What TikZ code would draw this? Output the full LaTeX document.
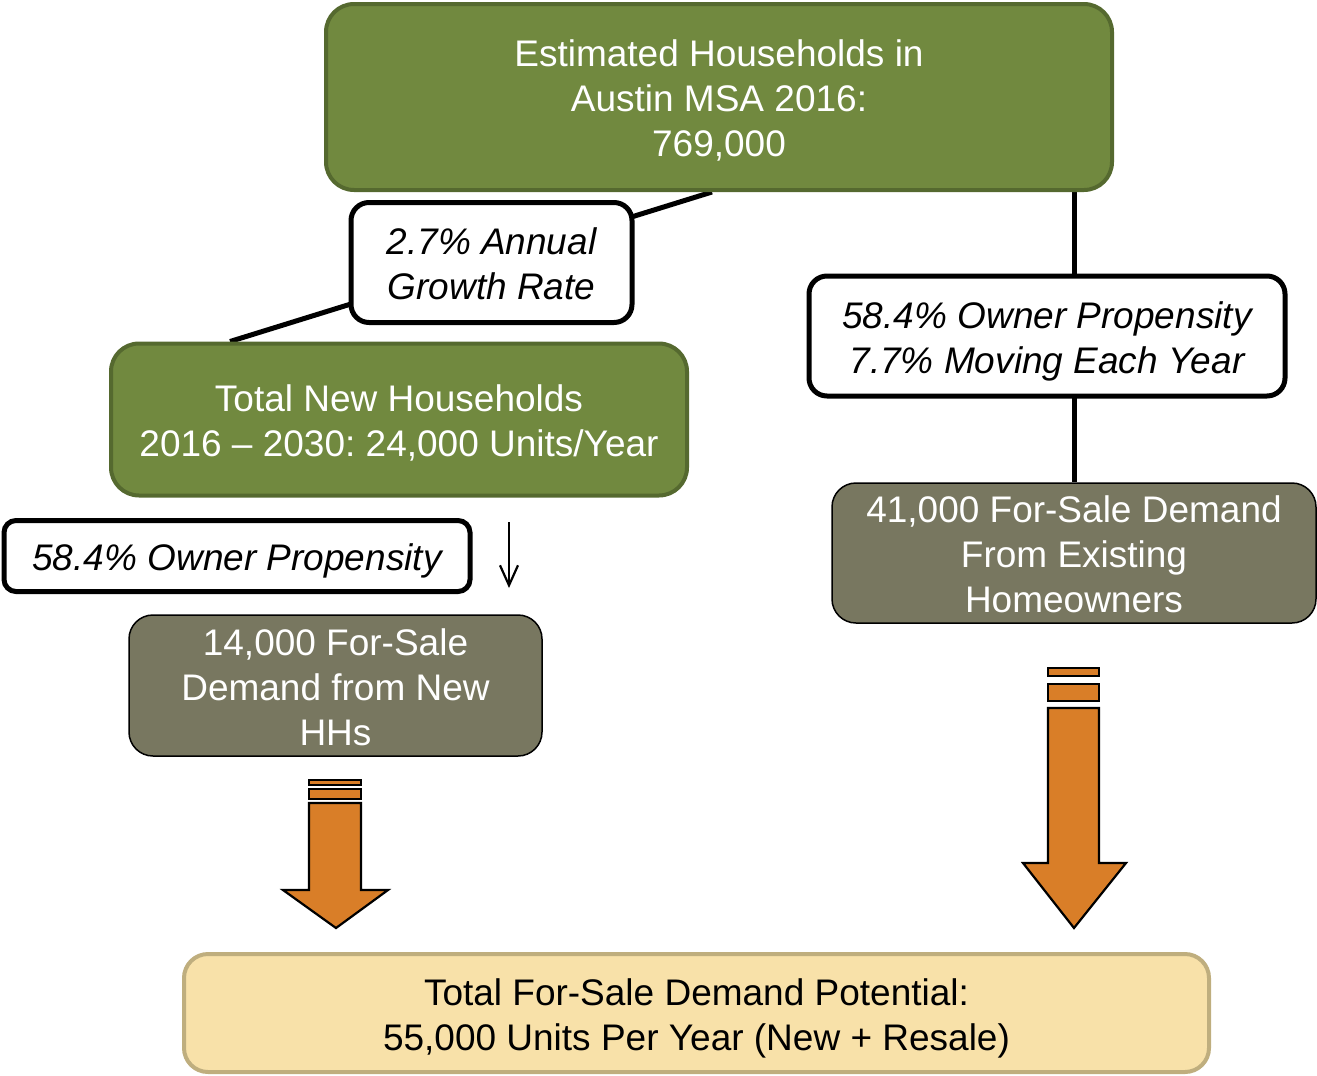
\documentclass[tikz,border=0pt]{standalone}
\usepackage{fontspec}
\setmainfont{Liberation Sans}
\usetikzlibrary{arrows.meta,backgrounds}
\frenchspacing
\definecolor{grfill}{HTML}{71893F}
\definecolor{grline}{HTML}{55692F}
\definecolor{gyfill}{HTML}{787760}
\definecolor{orfill}{HTML}{D97E28}
\definecolor{ylfill}{HTML}{F8E1A9}
\definecolor{ylline}{HTML}{BFAE7E}
\tikzset{
  txt/.style={font=\fontsize{37}{45}\selectfont, align=center, inner sep=0pt},
  oneline/.style={text height=38pt, text depth=9pt},
  twolines/.style={text height=83pt, text depth=9pt},
  threelines/.style={text height=128pt, text depth=9pt},
  greenbox/.style={txt, fill=grfill, draw=grline, line width=4pt, text=white, rounded corners=28pt},
  whitebox/.style={txt, fill=white, draw=black, line width=5pt, font=\fontsize{37}{45}\selectfont\itshape, rounded corners=18pt},
  graybox/.style={txt, fill=gyfill, draw=black, line width=1.5pt, text=white, rounded corners=24pt},
  totalbox/.style={txt, fill=ylfill, draw=ylline, line width=4pt, text=black, rounded corners=24pt},
  conn/.style={line width=5pt},
  bigarrow/.style={fill=orfill, draw=black, line width=2.2pt, line join=miter},
}
\begin{document}
\begin{tikzpicture}[x=1pt,y=-1pt]
\useasboundingbox (0,0) rectangle (1317,1076);

\node[greenbox, threelines, minimum width=786pt, minimum height=186pt] (top) at (719,97)
  {Estimated Households in\\Austin MSA 2016:\\769,000};
\node[whitebox, twolines, minimum width=281pt, minimum height=120pt] (growth) at (491.5,262.5)
  {2.7\% Annual\\Growth Rate};
\node[greenbox, twolines, minimum width=576pt, minimum height=152pt] (newhh) at (399,419.5)
  {Total New Households\\2016 -- 2030: 24,000 Units/Year};
\node[whitebox, twolines, minimum width=476pt, minimum height=120pt] (owner) at (1047,336)
  {58.4\% Owner Propensity\\7.7\% Moving Each Year};
\node[graybox, threelines, minimum width=484pt, minimum height=140pt] (exist) at (1074,553)
  {41,000 For-Sale Demand\\From Existing\\Homeowners};
\node[whitebox, oneline, rounded corners=12pt, minimum width=466pt, minimum height=71pt] (ownl) at (237,556)
  {58.4\% Owner Propensity};
\node[graybox, threelines, minimum width=413pt, minimum height=141pt] (newdem) at (335.5,685.5)
  {14,000 For-Sale\\Demand from New\\HHs};
\node[totalbox, twolines, minimum width=1025pt, minimum height=118pt] (total) at (696.5,1013)
  {Total For-Sale Demand Potential:\\55,000 Units Per Year (New + Resale)};

\begin{scope}[on background layer]
  \draw[conn] ([xshift=-7pt]top.south) -- ([xshift=-169pt]newhh.north);
  \draw[conn] (exist.north |- top.south) -- (exist.north);
\end{scope}

\coordinate (sa1) at (509,522);
\coordinate (sa2) at (509,588);
\draw[line width=2.2pt, -{Straight Barb[length=20pt,width=18pt,line width=2.2pt]}] (sa1) -- (sa2);

% left big arrow
\draw[bigarrow] (309,780) rectangle (361,785);
\draw[bigarrow] (309,789) rectangle (361,799);
\draw[bigarrow] (309,803) -- (361,803) -- (361,890) -- (388,890) -- (336,928) -- (283,890) -- (309,890) -- cycle;
% right big arrow
\draw[bigarrow] (1048,668) rectangle (1099,676);
\draw[bigarrow] (1048,684) rectangle (1099,701);
\draw[bigarrow] (1048,708) -- (1099,708) -- (1099,863) -- (1126,863) -- (1074,928) -- (1023,863) -- (1048,863) -- cycle;
\end{tikzpicture}
\end{document}
